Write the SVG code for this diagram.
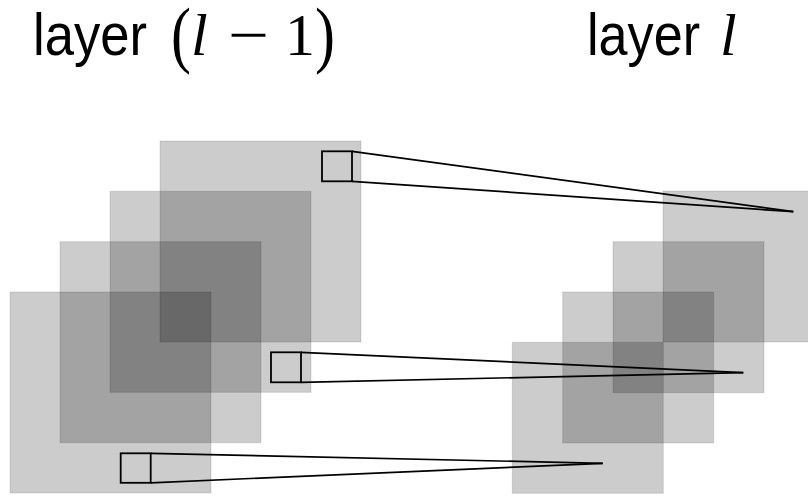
<svg xmlns="http://www.w3.org/2000/svg" width="808" height="498" viewBox="0 0 808 498">
  <style>
    .map { fill: #000; fill-opacity: 0.2; stroke: #000; stroke-opacity: 0.12; stroke-width: 1; }
    .filter { fill: none; stroke: #000; stroke-width: 1.8; }
    .conn { stroke: #000; stroke-width: 1.7; fill: none; }
    .sans { font-family: "Liberation Sans", Arial, sans-serif; font-size: 59px; fill: #000; }
    .serif { font-family: "Liberation Serif", "Times New Roman", serif; font-size: 60px; fill: #000; }
    .it { font-style: italic; }
  </style>
  <rect width="808" height="498" fill="#fff"/>

  <g id="title-left">
    <text class="sans" x="33" y="55" textLength="114" lengthAdjust="spacingAndGlyphs">layer</text>
    <text class="serif" transform="translate(171,59) scale(1,1.22)" x="0" y="0">(</text>
    <text class="serif it" x="191" y="55">l</text>
    <text class="serif" x="228" y="55" textLength="41" lengthAdjust="spacingAndGlyphs">−</text>
    <text class="serif" x="285" y="55">1</text>
    <text class="serif" transform="translate(315,59) scale(1,1.22)" x="0" y="0">)</text>
  </g>
  <g id="title-right">
    <text class="sans" x="587" y="55" textLength="113" lengthAdjust="spacingAndGlyphs">layer</text>
    <text class="serif it" x="720" y="55">l</text>
  </g>

  <g id="layer-l-minus-1">
    <g id="map-left-1"><rect class="map" x="10" y="292" width="201" height="201"/></g>
    <g id="map-left-2"><rect class="map" x="60" y="241.7" width="201" height="201"/></g>
    <g id="map-left-3"><rect class="map" x="110" y="191.3" width="201" height="201"/></g>
    <g id="map-left-4"><rect class="map" x="160" y="141" width="201" height="201"/></g>
  </g>

  <g id="layer-l">
    <g id="map-right-1"><rect class="map" x="512.3" y="342.3" width="151" height="151"/></g>
    <g id="map-right-2"><rect class="map" x="562.7" y="292" width="151" height="151"/></g>
    <g id="map-right-3"><rect class="map" x="613" y="241.7" width="151" height="151"/></g>
    <g id="map-right-4"><rect class="map" x="663" y="191" width="151" height="151"/></g>
  </g>

  <g id="filter-top"><rect class="filter" x="322" y="151.3" width="30" height="30"/></g>
  <g id="filter-middle"><rect class="filter" x="271" y="352.3" width="30" height="30"/></g>
  <g id="filter-bottom"><rect class="filter" x="120.7" y="453.3" width="30" height="29.5"/></g>

  <g id="connectors">
    <line class="conn" x1="352" y1="151.3" x2="793.3" y2="211.7"/>
    <line class="conn" x1="352" y1="181.3" x2="793.3" y2="211.7"/>
    <line class="conn" x1="301" y1="352.3" x2="743.3" y2="372.7"/>
    <line class="conn" x1="301" y1="382.3" x2="743.3" y2="372.7"/>
    <line class="conn" x1="150.7" y1="453.3" x2="602.7" y2="463.3"/>
    <line class="conn" x1="150.7" y1="482.8" x2="602.7" y2="463.3"/>
  </g>
</svg>
